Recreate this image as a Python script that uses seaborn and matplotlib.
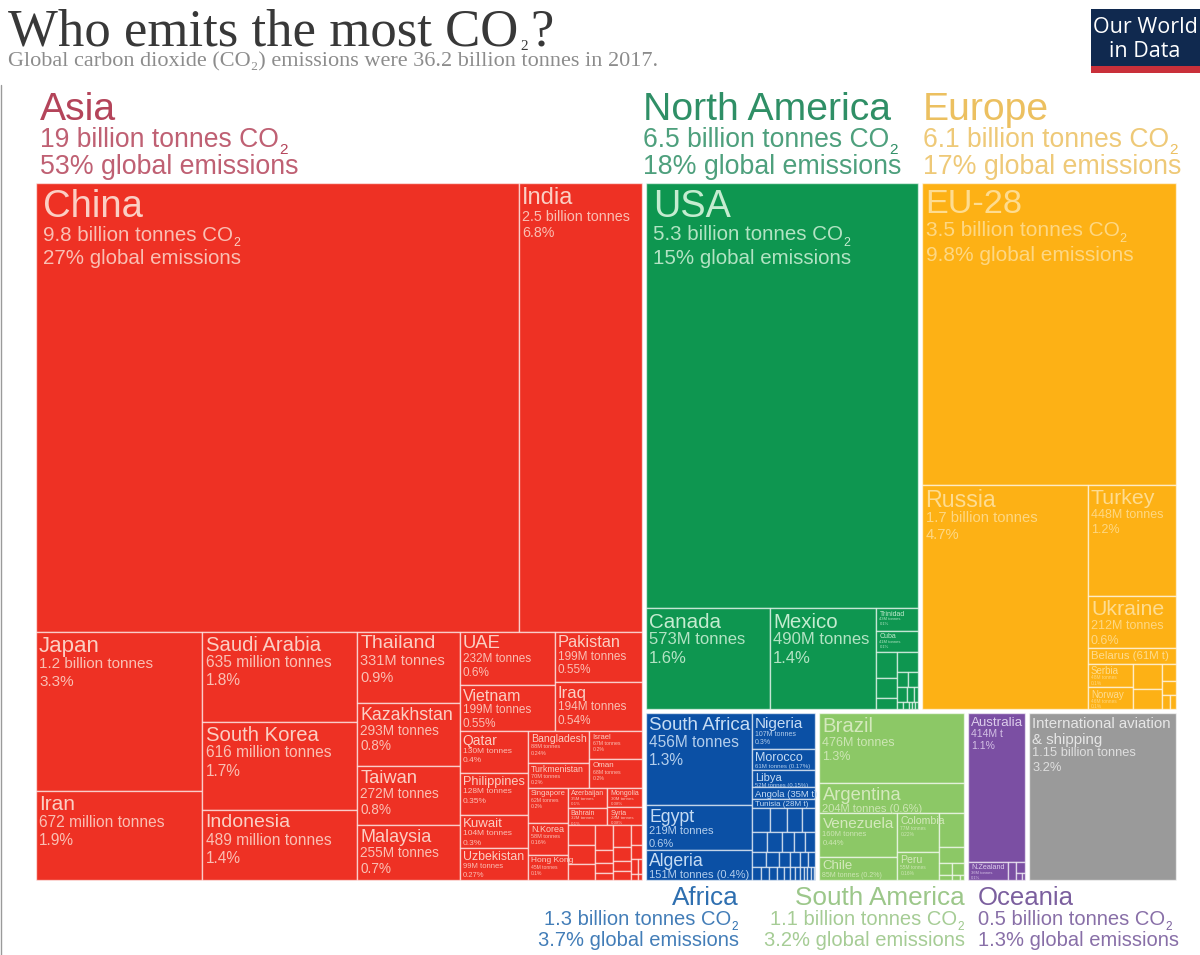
import matplotlib
matplotlib.use("Agg")
import matplotlib.pyplot as plt
from matplotlib.lines import Line2D
from matplotlib.patches import Rectangle
import pandas as pd
import seaborn as sns

# emissions in million tonnes (small unlabelled cells are estimates)
asia_names = ["China", "India", "Japan", "Iran", "Saudi Arabia", "South Korea", "Indonesia", "Thailand",
              "Kazakhstan", "Taiwan", "Malaysia", "UAE", "Vietnam", "Pakistan", "Iraq", "Qatar", "Philippines",
              "Kuwait", "Uzbekistan", "Bangladesh", "Turkmenistan", "Israel", "Oman", "Singapore", "N.Korea",
              "Hong Kong", "Azerbaijan", "Bahrain", "Mongolia", "Syria", "Jordan", "Sri Lanka", "Lebanon",
              "Myanmar", "Afghanistan", "Nepal", "Cambodia", "Georgia", "Kyrgyzstan", "Tajikistan", "Laos",
              "Brunei", "Palestine", "Armenia", "Maldives", "Bhutan", "Macao"]
asia_values = [9800, 2500, 1200, 672, 635, 616, 489, 331, 293, 272, 255, 232, 199, 199, 194, 130, 128, 104, 99,
               88, 70, 67, 68, 62, 58, 45, 35, 32, 30, 28, 25, 23, 20, 20, 11, 8, 6, 17, 11, 8, 7,
               10, 7, 5, 3, 2, 1]

north_america_names = ["USA", "Canada", "Mexico", "Trinidad", "Cuba", "Dominican Rep.", "Guatemala", "Panama",
                       "Honduras", "Costa Rica", "El Salvador", "Jamaica", "Nicaragua", "Haiti", "Bahamas",
                       "Barbados", "Belize", "Bermuda", "Greenland"]
north_america_values = [5300, 573, 490, 43, 41, 24, 18, 11, 20, 8, 7, 7, 5, 3, 2, 2, 1, 1, 1]

europe_names = ["EU-28", "Russia", "Turkey", "Ukraine", "Belarus", "Serbia", "Norway", "Switzerland", "Bosnia",
                "Macedonia", "Montenegro", "Moldova", "Albania"]
europe_values = [3500, 1700, 448, 212, 61, 48, 46, 35, 27, 11, 9, 5, 4]

africa_names = ["South Africa", "Egypt", "Algeria", "Nigeria", "Morocco", "Libya", "Angola", "Tunisia",
                "Kenya", "Ghana", "Tanzania", "Ivory Coast", "Sudan", "Senegal", "DR Congo", "Cameroon",
                "Zimbabwe", "Ethiopia", "Zambia", "Uganda", "Mauritius", "Botswana", "Rwanda", "Gabon", "Congo",
                "Benin", "Mozambique", "Namibia", "Mali", "Madagascar", "Guinea", "Togo", "Niger", "Malawi", "Chad"]
africa_values = [456, 219, 151, 107, 61, 52, 35, 28, 21, 19, 17, 15, 14, 13, 11, 10, 9, 10, 9, 8, 7, 6, 5,
                 6, 5, 5, 4, 4, 3, 3, 3, 2, 2, 2, 1]

south_america_names = ["Brazil", "Argentina", "Venezuela", "Chile", "Colombia", "Peru", "Ecuador", "Bolivia",
                       "Paraguay", "Uruguay", "Suriname", "Guyana", "French Guiana"]
south_america_values = [476, 204, 160, 85, 77, 55, 40, 18, 7, 7, 3, 2, 1]

oceania_names = ["Australia", "N.Zealand", "Papua N.G.", "New Caledonia", "Fiji", "Polynesia"]
oceania_values = [414, 36, 7, 5, 2, 1]

other_names = ["International aviation & shipping"]
other_values = [1150]

# text written inside the cells
label_lines = {
    "China": ["9.8 billion tonnes CO", "27% global emissions"],
    "India": ["2.5 billion tonnes", "6.8%"],
    "Japan": ["1.2 billion tonnes", "3.3%"],
    "Iran": ["672 million tonnes", "1.9%"],
    "Saudi Arabia": ["635 million tonnes", "1.8%"],
    "South Korea": ["616 million tonnes", "1.7%"],
    "Indonesia": ["489 million tonnes", "1.4%"],
    "Thailand": ["331M tonnes", "0.9%"],
    "Kazakhstan": ["293M tonnes", "0.8%"],
    "Taiwan": ["272M tonnes", "0.8%"],
    "Malaysia": ["255M tonnes", "0.7%"],
    "UAE": ["232M tonnes", "0.6%"],
    "Vietnam": ["199M tonnes", "0.55%"],
    "Pakistan": ["199M tonnes", "0.55%"],
    "Iraq": ["194M tonnes", "0.54%"],
    "Qatar": ["130M tonnes", "0.4%"],
    "Philippines": ["128M tonnes", "0.35%"],
    "Kuwait": ["104M tonnes", "0.3%"],
    "Uzbekistan": ["99M tonnes", "0.27%"],
    "Bangladesh": ["88M tonnes", "0.24%"],
    "Turkmenistan": ["70M tonnes", "0.2%"],
    "Israel": ["67M tonnes", "0.2%"],
    "Oman": ["68M tonnes", "0.2%"],
    "Singapore": ["62M tonnes", "0.2%"],
    "N.Korea": ["58M tonnes", "0.16%"],
    "Hong Kong": ["45M tonnes", "0.1%"],
    "Azerbaijan": ["35M tonnes", "0.1%"],
    "Bahrain": ["32M tonnes", "0.1%"],
    "Mongolia": ["30M tonnes", "0.08%"],
    "Syria": ["28M tonnes", "0.08%"],
    "USA": ["5.3 billion tonnes CO", "15% global emissions"],
    "Canada": ["573M tonnes", "1.6%"],
    "Mexico": ["490M tonnes", "1.4%"],
    "Trinidad": ["43M tonnes", "0.1%"],
    "Cuba": ["41M tonnes", "0.1%"],
    "EU-28": ["3.5 billion tonnes CO", "9.8% global emissions"],
    "Russia": ["1.7 billion tonnes", "4.7%"],
    "Turkey": ["448M tonnes", "1.2%"],
    "Ukraine": ["212M tonnes", "0.6%"],
    "Belarus": [],
    "Serbia": ["48M tonnes", "0.1%"],
    "Norway": ["46M tonnes", "0.1%"],
    "South Africa": ["456M tonnes", "1.3%"],
    "Egypt": ["219M tonnes", "0.6%"],
    "Algeria": ["151M tonnes (0.4%)"],
    "Nigeria": ["107M tonnes", "0.3%"],
    "Morocco": ["61M tonnes (0.17%)"],
    "Libya": ["52M tonnes (0.15%)"],
    "Angola": [],
    "Tunisia": [],
    "Brazil": ["476M tonnes", "1.3%"],
    "Argentina": ["204M tonnes (0.6%)"],
    "Venezuela": ["160M tonnes", "0.44%"],
    "Chile": ["85M tonnes (0.2%)"],
    "Colombia": ["77M tonnes", "0.22%"],
    "Peru": ["55M tonnes", "0.16%"],
    "Australia": ["414M t", "1.1%"],
    "N.Zealand": ["36M tonnes", "0.1%"],
    "International aviation & shipping": ["1.15 billion tonnes", "3.2%"],
}
display_names = {
    "Belarus": "Belarus (61M t)",
    "Angola": "Angola (35M t)",
    "Tunisia": "Tunisia (28M t)",
    "International aviation & shipping": "International aviation\n& shipping",
}

# heading text above and below the map
region_titles = ["Asia", "North America", "Europe", "Africa", "South America", "Oceania"]
region_amounts = ["19 billion tonnes CO", "6.5 billion tonnes CO", "6.1 billion tonnes CO",
                  "1.3 billion tonnes CO", "1.1 billion tonnes CO", "0.5 billion tonnes CO"]
region_shares = ["53% global emissions", "18% global emissions", "17% global emissions",
                 "3.7% global emissions", "3.2% global emissions", "1.3% global emissions"]

W, H = 1200, 955

# font sizes of cell labels: name size, detail size
label_sizes = {
    "China": (27.5, 14.8), "India": (17, 10.3), "Japan": (16, 11), "Iran": (15, 11.2), "Saudi Arabia": (14.6, 11.2),
    "South Korea": (14.6, 11.2), "Indonesia": (14, 11.2), "Thailand": (14, 10.5), "Kazakhstan": (12.8, 9.8),
    "Taiwan": (13.2, 9.8), "Malaysia": (13, 9.8), "UAE": (13.3, 8.5), "Vietnam": (11.5, 8.5), "Pakistan": (11.8, 8.5),
    "Iraq": (12, 8.5), "Qatar": (10, 6), "Philippines": (9.2, 6), "Kuwait": (9.5, 6), "Uzbekistan": (8.8, 5.5),
    "Bangladesh": (7.6, 4), "Turkmenistan": (6.3, 4), "Israel": (5.5, 3.8), "Oman": (5.8, 3.8), "Singapore": (5.5, 3.8),
    "N.Korea": (6.5, 4), "Hong Kong": (6, 3.6), "Azerbaijan": (5, 3.2), "Bahrain": (5, 3.2), "Mongolia": (5, 3.2),
    "Syria": (5, 3.2), "USA": (27.3, 14.8), "Canada": (14.8, 12), "Mexico": (14.8, 12), "Trinidad": (5, 3),
    "Cuba": (5, 3), "EU-28": (24.7, 15), "Russia": (16.7, 10.6), "Turkey": (15.3, 9), "Ukraine": (15.3, 9),
    "Belarus": (8.2, 0), "Serbia": (7, 3.5), "Norway": (7, 3.5), "South Africa": (13.5, 11.2), "Egypt": (12.7, 8),
    "Algeria": (12.7, 8), "Nigeria": (11, 5), "Morocco": (9, 4.4), "Libya": (8, 4.2), "Angola": (6.8, 0),
    "Tunisia": (5.8, 0), "Brazil": (14.7, 9), "Argentina": (13.2, 8), "Venezuela": (11, 5.5), "Chile": (9.5, 5),
    "Colombia": (7.6, 3.5), "Peru": (7.6, 3.5), "Australia": (9.6, 7.5), "N.Zealand": (5.2, 3),
    "International aviation & shipping": (10.8, 9.3),
}
# the big cells keep their text further from the edge
label_pads = {"China": 5, "USA": 5}

sns.set_theme(style="white")
plt.rcParams["font.family"] = ["Liberation Sans", "DejaVu Sans"]

region_colors = dict(zip(
    ["Asia", "North America", "Europe", "Africa", "South America", "Oceania", "Other"],
    sns.color_palette(["#ee3124", "#0e9650", "#fdb115", "#0b50a5", "#8cc866", "#7b4fa3", "#9a9a9a"]),
))
text_colors = {"Asia": "#fbcfc4", "North America": "#c5ecd0", "Europe": "#fedc90", "Africa": "#c6dcf4",
               "South America": "#d4e9bd", "Oceania": "#ddcdec", "Other": "#e6e6e6"}
heading_colors = ["#b4445a", "#2f8f66", "#ecc060", "#2e6fb0", "#9cc78a", "#7b5f9e"]

# how the cells nest: "h" splits side by side, "v" stacks
asia_tree = ("v", [
    ("h", ["China", "India"]),
    ("h", [
        ("v", ["Japan", "Iran"]),
        ("v", ["Saudi Arabia", "South Korea", "Indonesia"]),
        ("v", ["Thailand", "Kazakhstan", "Taiwan", "Malaysia"]),
        ("v", [
            ("h", [("v", ["UAE", "Vietnam"]), ("v", ["Pakistan", "Iraq"])]),
            ("h", [
                ("v", ["Qatar", "Philippines", "Kuwait", "Uzbekistan"]),
                ("v", [
                    ("h", [("v", ["Bangladesh", "Turkmenistan"]), ("v", ["Israel", "Oman"])]),
                    ("h", [
                        ("v", ["Singapore", "N.Korea", "Hong Kong"]),
                        ("v", [
                            ("h", [("v", ["Azerbaijan", "Bahrain"]), ("v", ["Mongolia", "Syria"])]),
                            ("h", [
                                ("v", ["Jordan", "Sri Lanka", "Lebanon"]),
                                ("v", ["Myanmar", "Afghanistan", "Nepal", "Cambodia"]),
                                ("v", ["Georgia", "Kyrgyzstan", "Tajikistan", "Laos"]),
                                ("v", ["Brunei", "Palestine", ("h", ["Armenia", "Maldives"]), ("h", ["Bhutan", "Macao"])]),
                            ]),
                        ]),
                    ]),
                ]),
            ]),
        ]),
    ]),
])
north_america_tree = ("v", [
    "USA",
    ("h", ["Canada", "Mexico", ("v", [
        "Trinidad", "Cuba",
        ("h", [
            ("v", ["Dominican Rep.", "Guatemala", "Panama"]),
            ("v", ["Honduras", ("h", ["Costa Rica", "El Salvador"]), ("h", ["Jamaica", "Nicaragua", "Haiti"]),
                   ("h", ["Bahamas", "Barbados", "Belize", "Bermuda", "Greenland"])]),
        ]),
    ])]),
])
europe_tree = ("v", [
    "EU-28",
    ("h", ["Russia", ("v", [
        "Turkey", "Ukraine", "Belarus",
        ("h", [("v", ["Serbia", "Norway"]), ("v", ["Switzerland", "Bosnia"]),
               ("v", ["Macedonia", "Montenegro", ("h", ["Moldova", "Albania"])])]),
    ])]),
])
africa_tree = ("h", [
    ("v", ["South Africa", "Egypt", "Algeria"]),
    ("v", ["Nigeria", "Morocco", "Libya", "Angola", "Tunisia",
           ("h", ["Kenya", "Ghana", "Tanzania", "Ivory Coast"]),
           ("h", ["Sudan", "Senegal", "DR Congo", "Cameroon", "Zimbabwe"]),
           ("h", ["Ethiopia", "Zambia", "Uganda", "Mauritius", "Botswana", "Rwanda"]),
           ("h", ["Gabon", "Congo", "Benin", "Mozambique", "Namibia", "Mali", "Madagascar", "Guinea", "Togo",
                  "Niger", "Malawi", "Chad"])]),
])
south_america_tree = ("v", [
    "Brazil", "Argentina",
    ("h", [("v", ["Venezuela", "Chile"]), ("v", ["Colombia", "Peru"]),
           ("v", ["Ecuador", "Bolivia", ("h", ["Paraguay", "Uruguay"]), ("h", ["Suriname", "Guyana", "French Guiana"])])]),
])
oceania_tree = ("v", ["Australia", ("h", ["N.Zealand", "Papua N.G.", ("v", ["New Caledonia", ("h", ["Fiji", "Polynesia"])])])])

root = ("h", [
    ("region", "Asia", asia_tree),
    ("v", [
        ("h", [("region", "North America", north_america_tree), ("region", "Europe", europe_tree)]),
        ("h", [("region", "Africa", africa_tree), ("region", "South America", south_america_tree),
               ("region", "Oceania", oceania_tree), ("region", "Other", "International aviation & shipping")]),
    ]),
])

values = {}
for names, vals in [(asia_names, asia_values), (north_america_names, north_america_values),
                    (europe_names, europe_values), (africa_names, africa_values),
                    (south_america_names, south_america_values), (oceania_names, oceania_values),
                    (other_names, other_values)]:
    values.update(zip(names, vals))


def node_total(node):
    if isinstance(node, str):
        return values[node]
    if node[0] == "region":
        return node_total(node[2])
    return sum(node_total(k) for k in node[1])


# frame of the map in pixels, one region gap wider than the coloured area
frame_x0, frame_x1, frame_y0, frame_y1 = 34, 1178, 181, 882
gap_x = 2 / (frame_x1 - frame_x0)
gap_y = 2 / (frame_y1 - frame_y0)

rows = []


def walk(node, x0, y0, x1, y1, region=None):
    if isinstance(node, str):
        rows.append({"name": node, "region": region, "x0": x0, "y0": y0, "x1": x1, "y1": y1})
        return
    if node[0] == "region":
        walk(node[2], x0 + gap_x, y0 + gap_y, x1 - gap_x, y1 - gap_y, node[1])
        return
    total = node_total(node)
    pos = x0 if node[0] == "h" else y0
    for kid in node[1]:
        share = node_total(kid) / total
        if node[0] == "h":
            step = share * (x1 - x0)
            walk(kid, pos, y0, pos + step, y1, region)
        else:
            step = share * (y1 - y0)
            walk(kid, x0, pos, x1, pos + step, region)
        pos += step


walk(root, 0, 0, 1, 1)
cells = pd.DataFrame(rows)

fig = plt.figure(figsize=(W / 100, H / 100), dpi=100)
ax = fig.add_axes([frame_x0 / W, 1 - frame_y1 / H, (frame_x1 - frame_x0) / W, (frame_y1 - frame_y0) / H])
for region, part in cells.groupby("region"):
    ax.bar(part["x0"], part["y1"] - part["y0"], width=part["x1"] - part["x0"], bottom=part["y0"], align="edge",
           color=region_colors[region], edgecolor=(1, 1, 1, 0.6), linewidth=1)
ax.set_xlim(0, 1)
ax.set_ylim(1, 0)
ax.set_axis_off()
sns.despine(ax=ax, left=True, bottom=True)

renderer = fig.canvas.get_renderer()


def add_sub2(t, size, drop, color):
    # the small 2 of CO2 hangs below the line end
    bb = t.get_window_extent(renderer)
    fig.text(bb.x1 / W, (bb.y0 + bb.height * 0.2 - drop) / H, "2", fontsize=size, color=color, va="baseline")


for row in cells.itertuples():
    if row.name not in label_sizes:
        continue
    name_size, sub_size = label_sizes[row.name]
    color = text_colors[row.region]
    pad = label_pads.get(row.name, 2.2)
    offset = -1.0
    for part in display_names.get(row.name, row.name).split("\n"):
        ax.annotate(part, (row.x0, row.y0), xytext=(pad, offset - name_size * 0.13), textcoords="offset points",
                    va="top", fontsize=name_size, color=color)
        offset -= name_size * 1.08
    for line in label_lines.get(row.name, []):
        t = ax.annotate(line, (row.x0, row.y0), xytext=(pad, offset), textcoords="offset points", va="top",
                        fontsize=sub_size, color=color, alpha=0.9)
        offset -= sub_size * 1.16
        if line.endswith(" CO"):
            add_sub2(t, sub_size * 0.6, 5, color)


def px_text(x, y, s, **kw):
    return fig.text(x / W, 1 - y / H, s, va="baseline", **kw)


# region headings: x, baselines, alignment
for i, x in enumerate([40, 643, 923]):
    px_text(x, 120, region_titles[i], fontsize=28.2, color=heading_colors[i])
    t = px_text(x, 147, region_amounts[i], fontsize=19.1, color=heading_colors[i], alpha=0.85)
    add_sub2(t, 11, 6, heading_colors[i])
    px_text(x, 174, region_shares[i], fontsize=19.3, color=heading_colors[i], alpha=0.85)

for i, x in [(3, 739), (4, 965)]:
    px_text(x, 905, region_titles[i], fontsize=18.8, color=heading_colors[i], ha="right")
    t = px_text(x - 8, 925, region_amounts[i], fontsize=14.5, color=heading_colors[i], ha="right", alpha=0.9)
    add_sub2(t, 8.5, 5, heading_colors[i])
    px_text(x, 946, region_shares[i], fontsize=14.5, color=heading_colors[i], ha="right", alpha=0.9)

px_text(978, 905, region_titles[5], fontsize=18.5, color=heading_colors[5])
t = px_text(978, 925, region_amounts[5], fontsize=14.5, color=heading_colors[5], alpha=0.9)
add_sub2(t, 8.5, 5, heading_colors[5])
px_text(978, 946, region_shares[5], fontsize=14.5, color=heading_colors[5], alpha=0.9)

# title block
serif = ["Liberation Serif", "DejaVu Serif"]
t = px_text(8, 46, "Who emits the most CO", fontsize=38, color="#383838", family=serif)
bb = t.get_window_extent(renderer)
fig.text((bb.x1 + 2) / W, 1 - 50 / H, "2", fontsize=11, color="#383838", family=serif, va="baseline")
fig.text((bb.x1 + 12) / W, 1 - 46 / H, "?", fontsize=38, color="#383838", family=serif, va="baseline")
px_text(8, 66, "Global carbon dioxide (CO\u2082) emissions were 36.2 billion tonnes in 2017.", fontsize=16,
        color="#8c8c8c", family=serif)

# logo, runs off the right edge
fig.add_artist(Rectangle((1091 / W, 1 - 66 / H), 109 / W, 57 / H, transform=fig.transFigure, color="#10294f", lw=0))
fig.add_artist(Rectangle((1091 / W, 1 - 73 / H), 109 / W, 7 / H, transform=fig.transFigure, color="#c9303a", lw=0))
logo_font = ["Open Sans", "DejaVu Sans"]
px_text(1145, 33, "Our World", fontsize=15.5, color="white", ha="center", family=logo_font)
px_text(1145, 57, "in Data", fontsize=15.5, color="white", ha="center", family=logo_font)

# page border at the far left
fig.add_artist(Line2D([1 / W, 1 / W], [0, 1 - 85 / H], transform=fig.transFigure, color="#9a9a9a", lw=1))

fig.savefig("out.png", dpi=100)
